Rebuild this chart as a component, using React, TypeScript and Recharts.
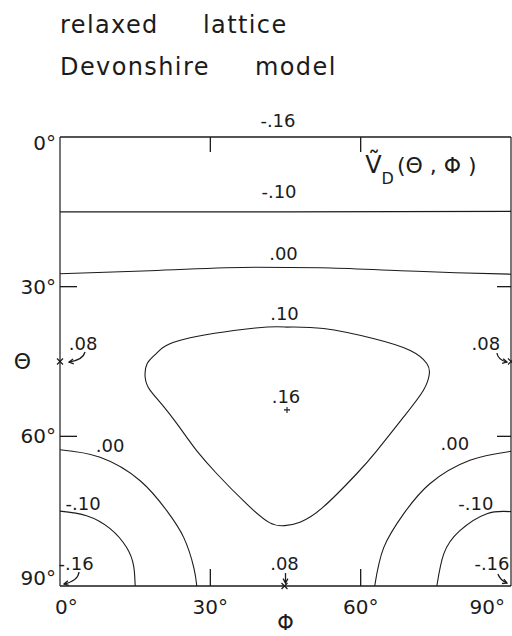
import React from "react";
import { ComposedChart, Line, XAxis, YAxis, ReferenceDot } from "recharts";

const INK = "#1b1b1b";
const FONT = "'DejaVu Sans', sans-serif";

const PHI_TICKS = [0, 30, 60, 90];
const THETA_TICKS = [0, 30, 60, 90];
const INNER_TICKS = [30, 60];

// contour lines of V_D as [phi, theta] in degrees
const LEVEL_M010_TOP = [[0, 15.0], [45, 15.0], [90, 14.9]];
const LEVEL_000_TOP = [[0, 27.4], [18, 26.8], [39, 26.1], [52, 26.2], [68, 26.8], [79, 27.2], [90, 27.5]];
const LEVEL_010_LOOP = [
  [45, 38.1], [39, 38.3], [24.6, 40.6], [19.4, 43.2], [17.4, 45.4], [17, 48.2], [18, 50.8],
  [21.3, 54.8], [25.3, 60.2], [27.3, 62.9], [31.3, 67.5], [37.3, 73.6], [41.8, 77.3],
  [44.8, 77.9], [47.9, 77.2], [52.5, 74.2], [59.2, 67.5], [63.2, 62.9], [68.5, 56.2],
  [72.5, 50.8], [73.7, 47.5], [73.2, 45.4], [69.9, 42.8], [62.5, 40.4], [52.6, 38.4], [45, 38.1],
];
const LEVEL_000_LEFT = [[0, 62.7], [8, 64.2], [16, 68.9], [21.3, 74.9], [24.7, 80.3], [26.7, 86.3], [27.3, 90]];
const LEVEL_M010_LEFT = [[0, 75.0], [5.3, 75.9], [10, 78.5], [13.3, 82.3], [14.7, 86.0], [15, 90]];
const LEVEL_000_RIGHT = [[90, 63.0], [81.8, 64.8], [73.8, 69.5], [68.6, 75.5], [64.6, 82.3], [62.8, 90]];
const LEVEL_M010_RIGHT = [[90, 75.1], [85.2, 75.5], [79.8, 78.9], [76.6, 83.5], [75.2, 90]];

const CONTOURS = [
  { pts: LEVEL_M010_TOP, curve: "linear" },
  { pts: LEVEL_000_TOP, curve: "monotone" },
  { pts: LEVEL_010_LOOP, curve: "natural" },
  { pts: LEVEL_000_LEFT, curve: "natural" },
  { pts: LEVEL_M010_LEFT, curve: "natural" },
  { pts: LEVEL_000_RIGHT, curve: "natural" },
  { pts: LEVEL_M010_RIGHT, curve: "natural" },
];

// contour level labels (centre of text baseline), in plot coordinates
const LEVEL_LABELS = [
  { text: "-.16", phi: 43.5, theta: -2.0 },
  { text: "-.10", phi: 43.7, theta: 12.2 },
  { text: ".00", phi: 44.6, theta: 24.6 },
  { text: ".10", phi: 44.8, theta: 36.7 },
  { text: ".16", phi: 45.1, theta: 53.3 },
  { text: ".08", phi: 4.6, theta: 42.7, arrow: "left" },
  { text: ".08", phi: 85.0, theta: 42.7, arrow: "right" },
  { text: ".08", phi: 44.8, theta: 86.8, arrow: "down" },
  { text: ".00", phi: 10.0, theta: 63.1 },
  { text: ".00", phi: 78.8, theta: 62.7 },
  { text: "-.10", phi: 4.6, theta: 74.7 },
  { text: "-.10", phi: 83.0, theta: 74.7 },
  { text: "-.16", phi: 3.2, theta: 86.8, arrow: "cornerLeft" },
  { text: "-.16", phi: 86.2, theta: 86.8, arrow: "cornerRight" },
];

const CROSS_MARKS = [[0, 45], [90, 45], [44.8, 90]];
const PLUS_MARKS = [[45.3, 54.7]];

// arrow shapes relative to the label: from, control, to
const ARROWS: Record<string, number[][]> = {
  left: [[2, 2], [0, 10], [-14, 12]],
  right: [[11, 3], [12, 10], [21, 12]],
  down: [[1, 3], [1, 8], [1, 13]],
  cornerLeft: [[3, 2], [2, 11], [-12, 14]],
  cornerRight: [[6, 4], [8, 10], [15, 13]],
};

const toPts = (arr: number[][]) => arr.map(([phi, theta]) => ({ phi, theta }));

function Arrow({ cx, cy, kind }: { cx: number; cy: number; kind: string }) {
  const [a, c, b] = ARROWS[kind];
  const ang = Math.atan2(b[1] - c[1], b[0] - c[0]);
  const h = 5;
  const ex = cx + b[0];
  const ey = cy + b[1];
  const h1 = [ex - h * Math.cos(ang - 0.5), ey - h * Math.sin(ang - 0.5)];
  const h2 = [ex - h * Math.cos(ang + 0.5), ey - h * Math.sin(ang + 0.5)];
  return (
    <g stroke={INK} strokeWidth={1.3} fill="none">
      <path d={`M${cx + a[0]},${cy + a[1]} Q${cx + c[0]},${cy + c[1]} ${ex},${ey}`} />
      <path d={`M${h1[0]},${h1[1]} L${ex},${ey} L${h2[0]},${h2[1]}`} />
    </g>
  );
}

const BottomTick = (props: any) => {
  const { x, y, payload } = props;
  const v = payload.value;
  const anchor = v === 0 ? "start" : v === 90 ? "end" : "middle";
  const dx = v === 0 ? -5 : v === 90 ? 1 : 0;
  return (
    <g>
      {INNER_TICKS.includes(v) && <line x1={x} y1={y} x2={x} y2={y - 17} stroke={INK} strokeWidth={1.3} />}
      <text x={x + dx} y={y + 28} textAnchor={anchor} fontSize={20} fill={INK}>{`${v}°`}</text>
    </g>
  );
};

const LeftTick = (props: any) => {
  const { x, y, payload } = props;
  const v = payload.value;
  const dy = v === 0 ? 13 : v === 90 ? -1 : 7;
  return (
    <g>
      {INNER_TICKS.includes(v) && <line x1={x} y1={y} x2={x + 17} y2={y} stroke={INK} strokeWidth={1.3} />}
      <text x={x - 4} y={y + dy} textAnchor="end" fontSize={20} fill={INK}>{`${v}°`}</text>
    </g>
  );
};

const TopTick = (props: any) => {
  const { x, y, payload } = props;
  if (!INNER_TICKS.includes(payload.value)) return <g />;
  return <line x1={x} y1={y} x2={x} y2={y + 15} stroke={INK} strokeWidth={1.3} />;
};

const RightTick = (props: any) => {
  const { x, y, payload } = props;
  if (!INNER_TICKS.includes(payload.value)) return <g />;
  return <line x1={x} y1={y} x2={x - 14} y2={y} stroke={INK} strokeWidth={1.3} />;
};

const titleStyle = { position: "absolute" as const, fontSize: 24, lineHeight: 1, letterSpacing: 1.4 };

export default function App() {
  return (
    <div style={{ position: "absolute", left: 0, top: 0, width: 512, height: 636, background: "#fff", fontFamily: FONT, color: INK }}>
      <div style={{ ...titleStyle, left: 60, top: 13 }}>relaxed</div>
      <div style={{ ...titleStyle, left: 203, top: 13 }}>lattice</div>
      <div style={{ ...titleStyle, left: 60, top: 55 }}>Devonshire</div>
      <div style={{ ...titleStyle, left: 255, top: 55 }}>model</div>

      <ComposedChart width={512} height={636} margin={{ top: 136, right: 0, bottom: 49, left: 59 }}>
        <XAxis
          xAxisId="b"
          dataKey="phi"
          type="number"
          domain={[0, 90]}
          ticks={PHI_TICKS}
          orientation="bottom"
          height={1}
          tickSize={0}
          tickMargin={0}
          tickLine={false}
          tick={BottomTick}
          axisLine={{ stroke: INK, strokeWidth: 1.5 }}
          allowDataOverflow
          label={{ value: "Φ", position: "bottom", offset: 28, fontSize: 21, fill: INK }}
        />
        <XAxis
          xAxisId="t"
          dataKey="phi"
          type="number"
          domain={[0, 90]}
          ticks={PHI_TICKS}
          orientation="top"
          height={1}
          tickSize={0}
          tickMargin={0}
          tickLine={false}
          tick={TopTick}
          axisLine={{ stroke: INK, strokeWidth: 1.5 }}
          allowDataOverflow
        />
        <YAxis
          yAxisId="l"
          type="number"
          domain={[0, 90]}
          reversed
          ticks={THETA_TICKS}
          width={1}
          tickSize={0}
          tickMargin={0}
          tickLine={false}
          tick={LeftTick}
          axisLine={{ stroke: INK, strokeWidth: 1.2 }}
          allowDataOverflow
          label={{ value: "Θ", position: "left", offset: 28, fontSize: 22, fill: INK }}
        />
        <YAxis
          yAxisId="r"
          orientation="right"
          type="number"
          domain={[0, 90]}
          reversed
          ticks={THETA_TICKS}
          width={1}
          tickSize={0}
          tickMargin={0}
          tickLine={false}
          tick={RightTick}
          axisLine={{ stroke: INK, strokeWidth: 1.2 }}
          allowDataOverflow
        />

        {CONTOURS.map((c, i) => (
          <Line
            key={i}
            data={toPts(c.pts)}
            dataKey="theta"
            xAxisId="b"
            yAxisId="l"
            type={c.curve as any}
            stroke={INK}
            strokeWidth={1.1}
            dot={false}
            activeDot={false}
            isAnimationActive={false}
          />
        ))}

        {LEVEL_LABELS.map((l, i) => (
          <ReferenceDot
            key={`lab${i}`}
            x={l.phi}
            y={l.theta}
            xAxisId="b"
            yAxisId="l"
            r={0}
            ifOverflow="visible"
            shape={(p: any) => (
              <g>
                <text x={p.cx} y={p.cy} textAnchor="middle" fontSize={18} fill={INK}>{l.text}</text>
                {l.arrow && <Arrow cx={p.cx} cy={p.cy} kind={l.arrow} />}
              </g>
            )}
          />
        ))}

        {CROSS_MARKS.map(([phi, theta], i) => (
          <ReferenceDot
            key={`x${i}`}
            x={phi}
            y={theta}
            xAxisId="b"
            yAxisId="l"
            r={0}
            ifOverflow="visible"
            shape={(p: any) => (
              <path d={`M${p.cx - 3},${p.cy - 3} L${p.cx + 3},${p.cy + 3} M${p.cx - 3},${p.cy + 3} L${p.cx + 3},${p.cy - 3}`} stroke={INK} strokeWidth={1.2} />
            )}
          />
        ))}
        {PLUS_MARKS.map(([phi, theta], i) => (
          <ReferenceDot
            key={`p${i}`}
            x={phi}
            y={theta}
            xAxisId="b"
            yAxisId="l"
            r={0}
            ifOverflow="visible"
            shape={(p: any) => (
              <path d={`M${p.cx - 3},${p.cy} L${p.cx + 3},${p.cy} M${p.cx},${p.cy - 3} L${p.cx},${p.cy + 3}`} stroke={INK} strokeWidth={1.1} />
            )}
          />
        ))}

        <ReferenceDot
          x={60.9}
          y={7.2}
          xAxisId="b"
          yAxisId="l"
          r={0}
          ifOverflow="visible"
          shape={(p: any) => (
            <text x={p.cx} y={p.cy} fontSize={22} fill={INK}>
              <tspan fontSize={24}>Ṽ</tspan>
              <tspan dy={11} fontSize={16}>D</tspan>
              <tspan dy={-11} dx={3}>(Θ , Φ )</tspan>
            </text>
          )}
        />
      </ComposedChart>
    </div>
  );
}
